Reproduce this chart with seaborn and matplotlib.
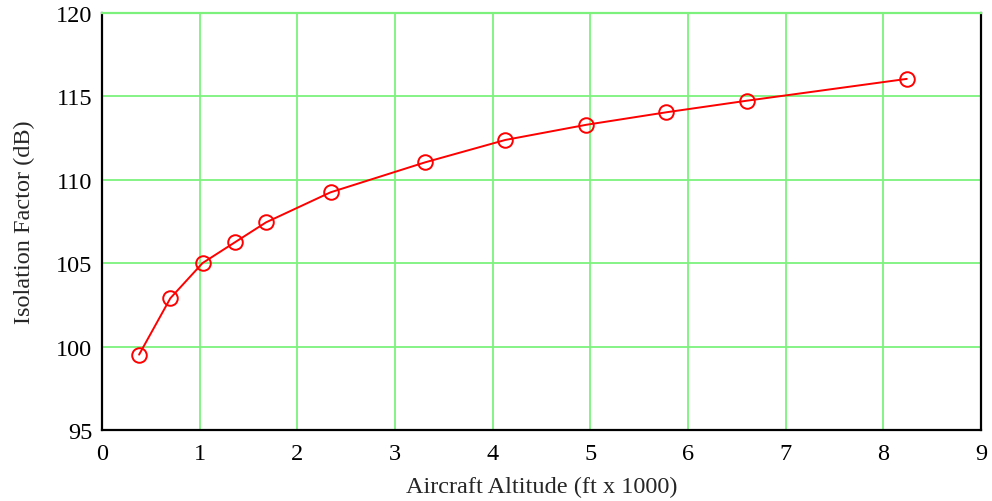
import matplotlib
matplotlib.use("Agg")
import matplotlib.pyplot as plt
import seaborn as sns
import pandas as pd

altitude = [0.38, 0.70, 1.03, 1.36, 1.68, 2.34, 3.31, 4.13, 4.96, 5.78, 6.60, 8.24]
isolation = [99.52, 102.9, 105.01, 106.25, 107.45, 109.25, 111.05, 112.39, 113.3, 114.05, 114.74, 116.05]
x_ticks = [0, 1, 2, 3, 4, 5, 6, 7, 8, 9]
y_ticks = [95, 100, 105, 110, 115, 120]

sns.set_style("white")
plt.rcParams['font.family'] = ['Liberation Serif', 'DejaVu Serif']

df = pd.DataFrame({"alt": altitude, "iso": isolation})

fig = plt.figure(figsize=(9.92, 5.02), dpi=100)
ax = fig.add_axes([0.1028, 0.1414, 0.8861, 0.8307])
sns.lineplot(data=df, x="alt", y="iso", ax=ax, color="red", linewidth=1.4,
             marker="o", markersize=10.5, markerfacecolor="none",
             markeredgecolor="red", markeredgewidth=1.4, zorder=3)

ax.set_xlim(0, 9)
ax.set_ylim(95, 120)
ax.set_xticks(x_ticks)
ax.set_yticks(y_ticks)
ax.grid(True, color="#7cf27c", linewidth=1.3, zorder=0)
ax.set_axisbelow(True)
for side in ["left", "bottom", "right"]:
    ax.spines[side].set_color("black")
    ax.spines[side].set_linewidth(1.6)
ax.spines["top"].set_color("#7cf27c")
ax.spines["top"].set_linewidth(1.6)
ax.tick_params(axis="both", which="both", length=0, labelsize=17.5, colors="black")
ax.tick_params(axis="x", pad=9)
ax.tick_params(axis="y", pad=7)
ax.set_xlabel("Aircraft Altitude (ft x 1000)", fontsize=17.5, labelpad=9)
ax.set_ylabel("Isolation Factor (dB)", fontsize=17.5, labelpad=15)

fig.savefig("out.png", dpi=100)
